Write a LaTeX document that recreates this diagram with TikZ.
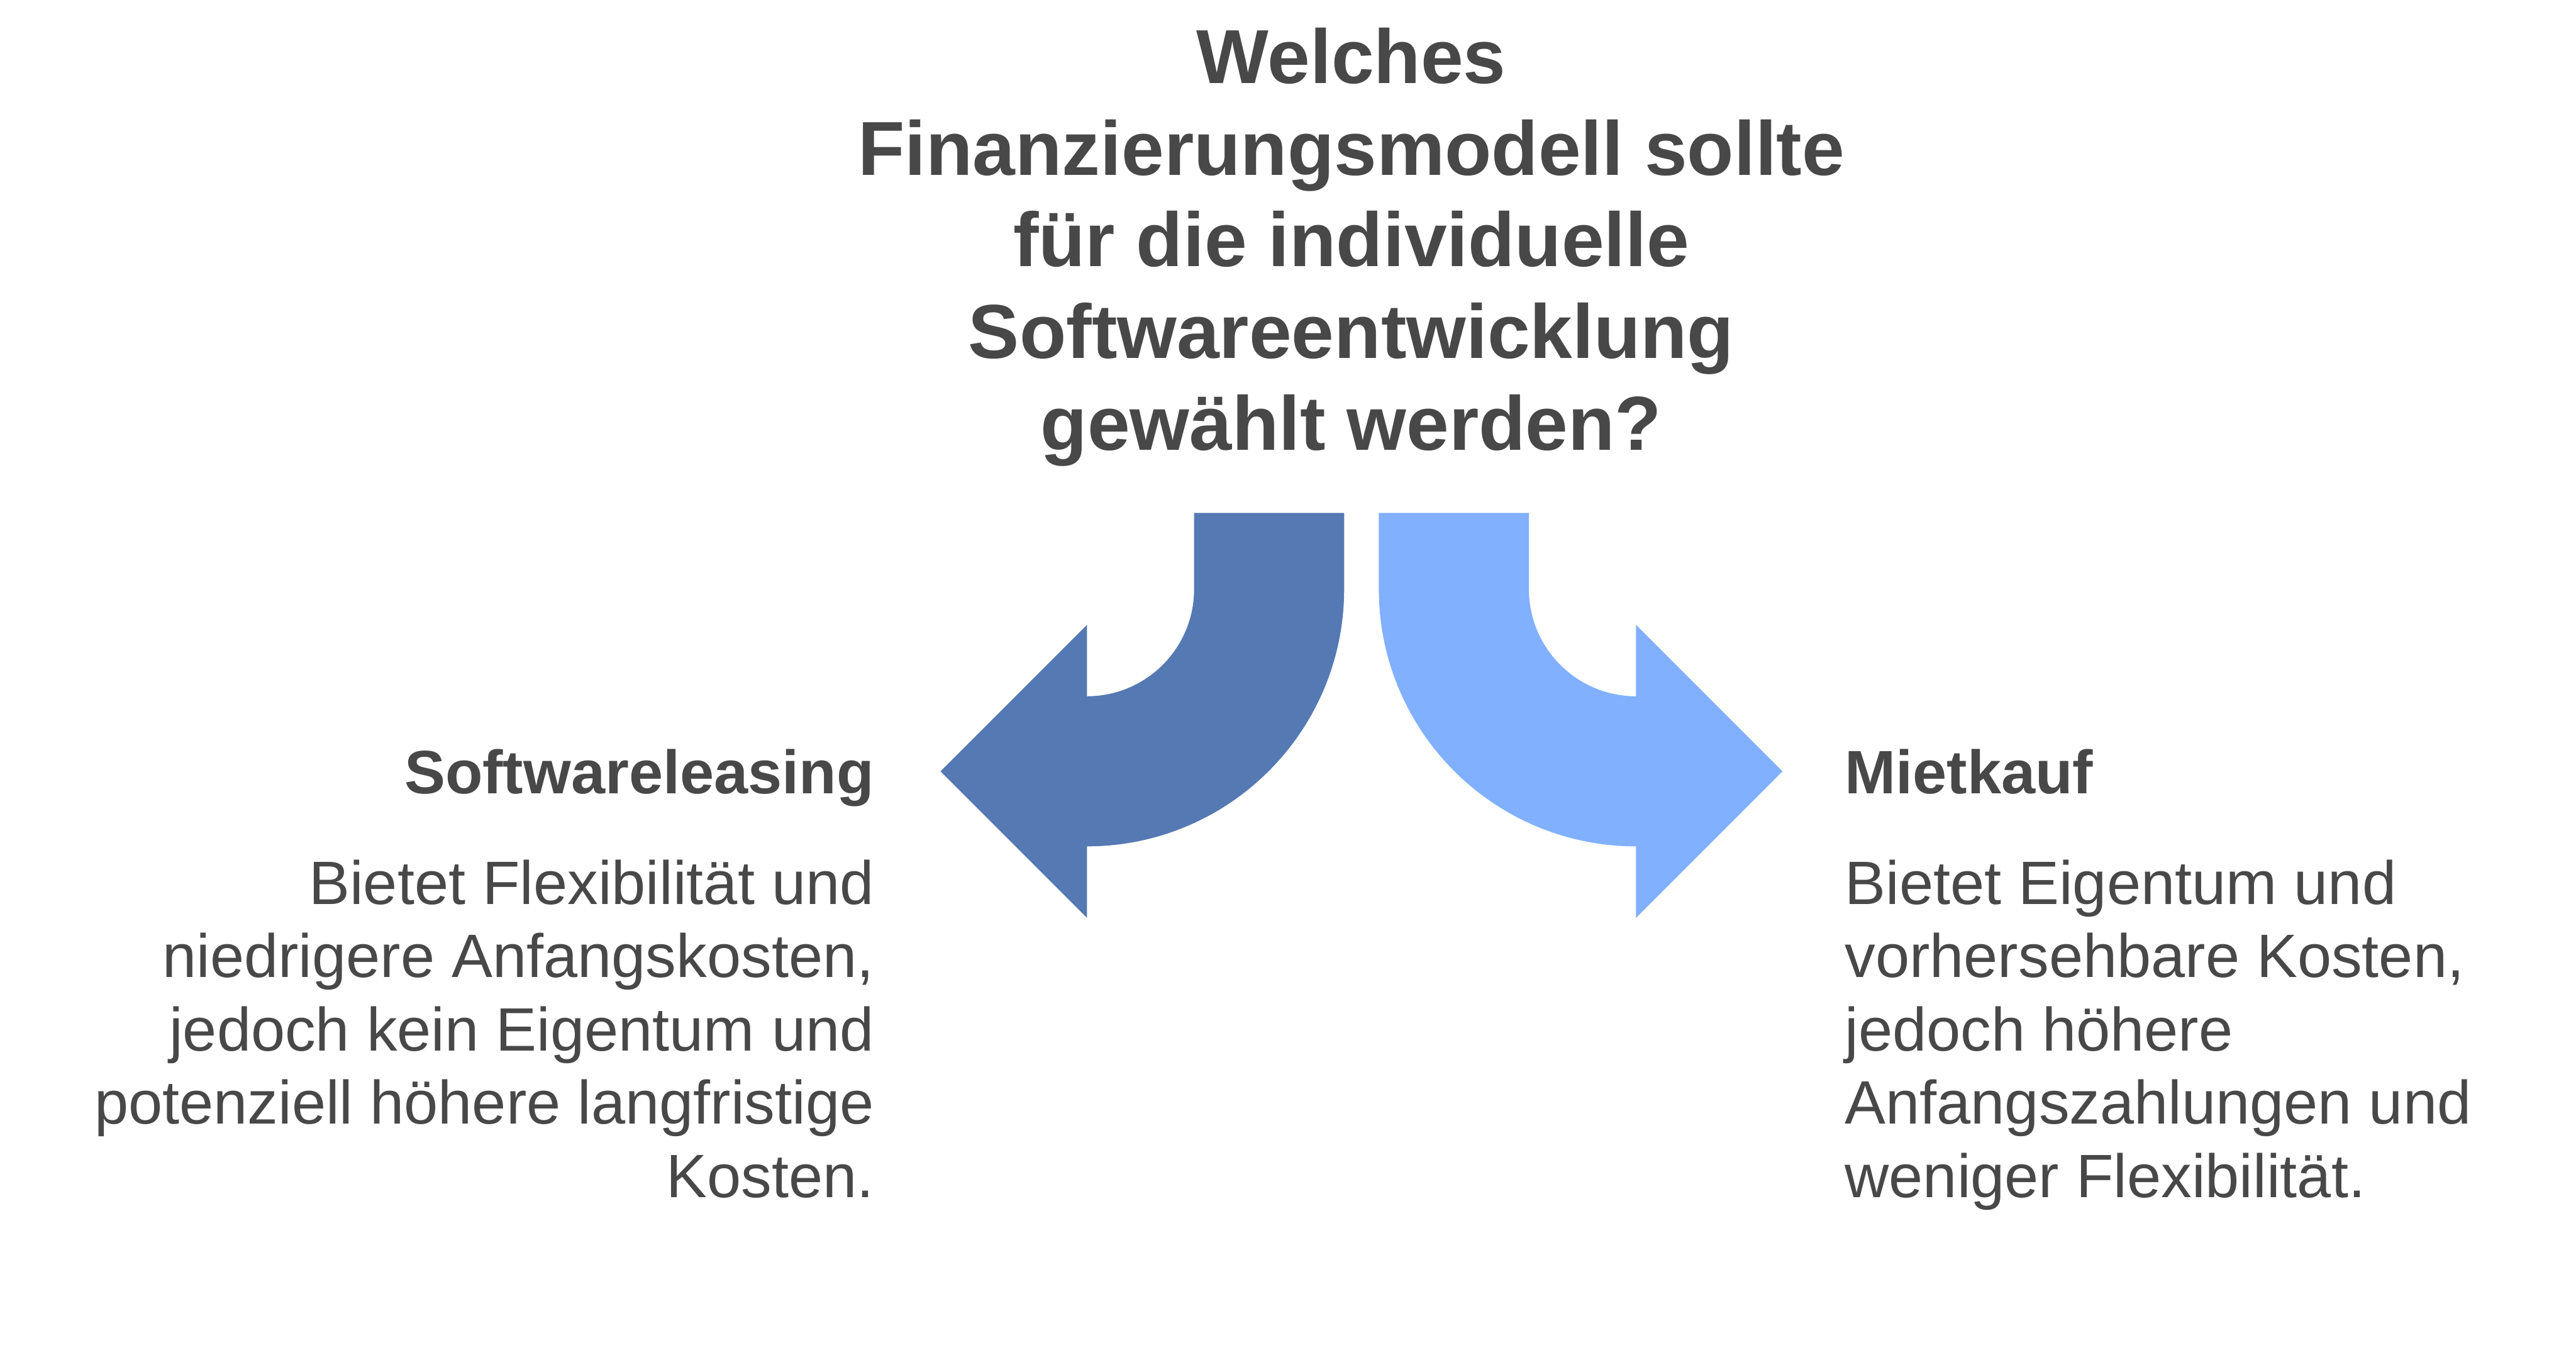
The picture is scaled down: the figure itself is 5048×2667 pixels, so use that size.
\documentclass[tikz,border=0pt]{standalone}
\usepackage{fontspec}
\setmainfont{Liberation Sans}
\definecolor{txtgray}{HTML}{484848}
\definecolor{darkblue}{HTML}{5579B3}
\definecolor{lightblue}{HTML}{80B0FF}
\begin{document}
\begin{tikzpicture}[x=1pt,y=-1pt,
  titletext/.style={inner sep=0pt,text=txtgray,align=center,font=\fontsize{150}{179.7}\selectfont\bfseries},
  headtext/.style={inner sep=0pt,text=txtgray,font=\fontsize{120}{143.7}\selectfont\bfseries},
  bodytext/.style={inner sep=0pt,text=txtgray,font=\fontsize{120}{143.7}\selectfont}]
\useasboundingbox (0,0) rectangle (5048,2667);
\fill[white] (0,0) rectangle (5048,2667);
% left arrow
\fill[darkblue] (2340,1005) -- (2634,1005) -- (2634,1154)
  arc[start angle=0,end angle=90,x radius=504,y radius=504]
  -- (2130,1798) -- (1843,1511) -- (2130,1224) -- (2130,1364)
  arc[start angle=90,end angle=0,x radius=210,y radius=210] -- cycle;
% right arrow
\fill[lightblue] (2702,1005) -- (2996,1005) -- (2996,1154)
  arc[start angle=180,end angle=90,x radius=210,y radius=210]
  -- (3206,1224) -- (3493,1511) -- (3206,1798) -- (3206,1658)
  arc[start angle=90,end angle=180,x radius=504,y radius=504] -- cycle;
% texts
\node[titletext,anchor=north] (title) at (2648,54.2) {Welches\\Finanzierungsmodell sollte\\für die individuelle\\Softwareentwicklung\\gewählt werden?};
\node[headtext,anchor=base east] (lhead) at (1713,1554.5) {Softwareleasing};
\node[bodytext,anchor=north east,align=right] (lbody) at (1713,1684) {Bietet Flexibilität und\\niedrigere Anfangskosten,\\jedoch kein Eigentum und\\potenziell höhere langfristige\\Kosten.};
\node[headtext,anchor=base west] (rhead) at (3615,1554.5) {Mietkauf};
\node[bodytext,anchor=north west,align=left] (rbody) at (3615,1684) {Bietet Eigentum und\\vorhersehbare Kosten,\\jedoch höhere\\Anfangszahlungen und\\weniger Flexibilität.};
\end{tikzpicture}
\end{document}
